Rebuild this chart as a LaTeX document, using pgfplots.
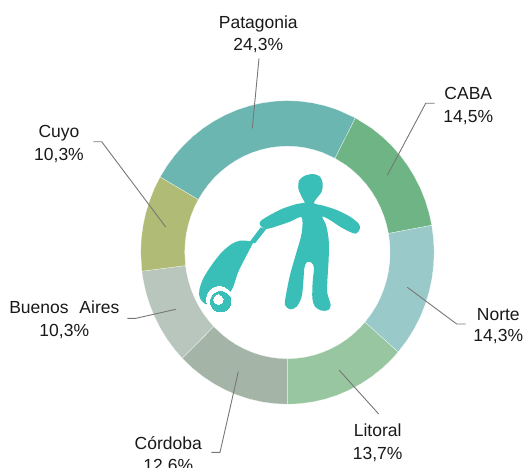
\documentclass[border=0pt]{standalone}
\usepackage{fontspec}
\setmainfont{Liberation Sans}
\usepackage{pgfplots}
\pgfplotsset{compat=1.18}

\definecolor{patagonia}{HTML}{6CB6B2}
\definecolor{caba}{HTML}{6EB484}
\definecolor{norte}{HTML}{99C9C9}
\definecolor{litoral}{HTML}{97C6A0}
\definecolor{cordoba}{HTML}{A4B4A6}
\definecolor{bsas}{HTML}{B9C6BD}
\definecolor{cuyo}{HTML}{B0BC75}
\definecolor{icono}{HTML}{39BFB7}
\definecolor{colguia}{HTML}{777777}

\pgfplotsset{
  lienzo/.style={
    at={(0,0)}, anchor=south west,
    width=527pt, height=468pt, scale only axis,
    hide axis, clip=false,
  },
  sector/.style={data cs=polar, fill=#1, draw=white, line width=0.2pt},
  guia/.style={draw=colguia, line width=0.9pt},
}
\tikzset{lbl/.style={font=\fontsize{17.5}{21}\selectfont, anchor=base, inner sep=0pt, text=black!90}}

\begin{document}
\begin{tikzpicture}[x=1pt,y=1pt]
\useasboundingbox (0,0) rectangle (527,468);

% ring: radius 100 outside, 70 inside, angles
\begin{axis}[lienzo, xmin=-195.9, xmax=163.3, ymin=-142.0, ymax=166.3]
% Patagonia 24,3%
\addplot[sector=patagonia] coordinates {
(62.4,100)(70,100)(75,100)(80,100)(85,100)(90,100)(95,100)(100,100)(105,100)(110,100)(115,100)(120,100)(125,100)(130,100)(135,100)(140,100)(145,100)(150.2,100)
(150.2,70)(145,70)(140,70)(135,70)(130,70)(125,70)(120,70)(115,70)(110,70)(105,70)(100,70)(95,70)(90,70)(85,70)(80,70)(75,70)(70,70)(62.4,70)} -- cycle;
% CABA 14,5%
\addplot[sector=caba] coordinates {
(10.3,100)(15,100)(20,100)(25,100)(30,100)(35,100)(40,100)(45,100)(50,100)(55,100)(62.4,100)
(62.4,70)(55,70)(50,70)(45,70)(40,70)(35,70)(30,70)(25,70)(20,70)(15,70)(10.3,70)} -- cycle;
% Norte 14,3%
\addplot[sector=norte] coordinates {
(-41,100)(-35,100)(-30,100)(-25,100)(-20,100)(-15,100)(-10,100)(-5,100)(0,100)(5,100)(10.3,100)
(10.3,70)(5,70)(0,70)(-5,70)(-10,70)(-15,70)(-20,70)(-25,70)(-30,70)(-35,70)(-41,70)} -- cycle;
% Litoral 13,7%
\addplot[sector=litoral] coordinates {
(-90,100)(-85,100)(-80,100)(-75,100)(-70,100)(-65,100)(-60,100)(-55,100)(-50,100)(-45,100)(-41,100)
(-41,70)(-45,70)(-50,70)(-55,70)(-60,70)(-65,70)(-70,70)(-75,70)(-80,70)(-85,70)(-90,70)} -- cycle;
% Cordoba 12,6%
\addplot[sector=cordoba] coordinates {
(224.2,100)(230,100)(235,100)(240,100)(245,100)(250,100)(255,100)(260,100)(265,100)(270,100)
(270,70)(265,70)(260,70)(255,70)(250,70)(245,70)(240,70)(235,70)(230,70)(224.2,70)} -- cycle;
% Buenos Aires 10,3%
\addplot[sector=bsas] coordinates {
(187.1,100)(190,100)(195,100)(200,100)(205,100)(210,100)(215,100)(220,100)(224.2,100)
(224.2,70)(220,70)(215,70)(210,70)(205,70)(200,70)(195,70)(190,70)(187.1,70)} -- cycle;
% Cuyo 10,3%
\addplot[sector=cuyo] coordinates {
(150.2,100)(155,100)(160,100)(165,100)(170,100)(175,100)(180,100)(187.1,100)
(187.1,70)(180,70)(175,70)(170,70)(165,70)(160,70)(155,70)(150.2,70)} -- cycle;
\end{axis}

% leaders and labels, in image pixels
\begin{axis}[lienzo, xmin=0, xmax=527, ymin=0, ymax=468, y dir=reverse]
\addplot[guia] coordinates {(259,58.3)(252.3,128.3)};
\addplot[guia] coordinates {(387.3,175.3)(425.7,103.3)(434.5,103.3)};
\addplot[guia] coordinates {(407.3,287.3)(456.7,324)(465.7,324)};
\addplot[guia] coordinates {(339,370)(378.7,414)};
\addplot[guia] coordinates {(238.3,371.7)(220,452.3)(211.3,452.3)};
\addplot[guia] coordinates {(175.7,309.3)(136,318.3)(127.3,318.3)};
\addplot[guia] coordinates {(165.7,227)(101.7,141.7)(93.3,141.7)};
\node[lbl] at (axis cs:258.3,28.5) {Patagonia};
\node[lbl] at (axis cs:258.3,50.7) {24,3\%};
\node[lbl] at (axis cs:468.3,100) {CABA};
\node[lbl] at (axis cs:468.3,122.3) {14,5\%};
\node[lbl] at (axis cs:498.3,320) {Norte};
\node[lbl] at (axis cs:498.3,341.7) {14,3\%};
\node[lbl] at (axis cs:377.7,436.7) {Litoral};
\node[lbl] at (axis cs:377.7,459) {13,7\%};
\node[lbl] at (axis cs:168.3,449) {Córdoba};
\node[lbl] at (axis cs:168.3,471) {12,6\%};
\node[lbl] at (axis cs:64.3,313.3) {Buenos\hspace{0.62em}Aires};
\node[lbl] at (axis cs:64.3,336) {10,3\%};
\node[lbl] at (axis cs:59,137.7) {Cuyo};
\node[lbl] at (axis cs:59,160) {10,3\%};
\end{axis}

% traveller icon, traced in units of a third of a pixel from (190,165)
\begin{axis}[lienzo, xmin=-570, xmax=1011, ymin=-495, ymax=909, y dir=reverse]
\addplot[fill=icono, draw=none, smooth, tension=0.5] coordinates {
(345,113)(335,95)(325,70)(328,45)(345,32)(370,27)(390,35)(398,55)(395,80)(380,100)(372,115)
(400,122)(440,135)(480,155)(505,175)(510,190)(500,205)(485,203)(450,185)(420,165)(397,155)
(408,180)(415,215)(417,250)(415,300)(412,350)(412,385)(422,420)(415,435)(395,437)(375,425)(367,400)
(368,350)(372,310)(365,293)(350,292)(343,310)(340,350)(335,395)(320,425)(300,433)(285,420)(287,395)
(300,330)(320,260)(335,205)(335,157)(300,170)(250,187)(225,192)(210,180)(212,168)(240,150)(280,130)(320,117)} -- cycle;
\addplot[fill=icono, draw=none] coordinates {(212,187)(228,193)(195,235)(178,232)} -- cycle;
\addplot[fill=icono, draw=none, smooth, tension=0.5] coordinates {
(190,232)(175,228)(150,227)(125,237)(95,262)(65,300)(40,340)(28,375)(30,400)(50,418)(90,410)(125,375)(145,320)(165,280)} -- cycle;
\addplot[only marks, mark=*, mark size=13pt, mark options={fill=white, draw=white, line width=0pt}] coordinates {(88,403)};
\addplot[only marks, mark=*, mark size=10.3pt, mark options={fill=icono, draw=icono, line width=0pt}] coordinates {(92,410)};
\addplot[only marks, mark=*, mark size=4.7pt, mark options={fill=white, draw=white, line width=0pt}] coordinates {(85,404)};
\end{axis}
\end{tikzpicture}
\end{document}
